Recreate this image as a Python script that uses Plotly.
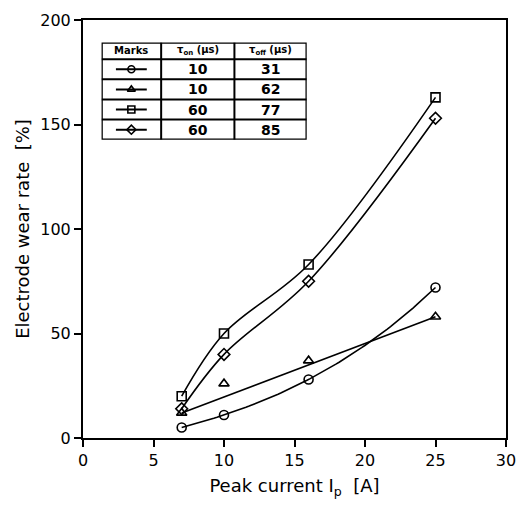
import plotly.graph_objects as go
import numpy as np

current = [7, 10, 16, 25]
wear_10_31 = [5, 11, 28, 72]
wear_10_62 = [12, 26, 37, 58]
wear_60_77 = [20, 50, 83, 163]
wear_60_85 = [14, 40, 75, 153]

table_on = ["10", "10", "60", "60"]
table_off = ["31", "62", "77", "85"]
symbols = ["circle-open", "triangle-up-open", "square-open", "diamond-open"]

FONT = "DejaVu Sans"
fig = go.Figure()

mk = dict(color="black", size=9, line=dict(width=1.6, color="black"))
for y, sym in [(wear_60_77, "square-open"), (wear_60_85, "diamond-open")]:
    fig.add_trace(go.Scatter(x=current, y=y, mode="lines+markers",
                             line=dict(shape="spline", smoothing=1.0, color="black", width=1.6),
                             marker=dict(symbol=sym, **mk), showlegend=False))
# circle series: smooth cubic through the measured points
coef = np.polyfit(current, wear_10_31, 3)
xs = np.linspace(current[0], current[-1], 80)
fig.add_trace(go.Scatter(x=xs, y=np.polyval(coef, xs), mode="lines",
                         line=dict(color="black", width=1.6), showlegend=False))
fig.add_trace(go.Scatter(x=current, y=wear_10_31, mode="markers",
                         marker=dict(symbol="circle-open", **mk), showlegend=False))
# triangle series: straight line from first to last point
fig.add_trace(go.Scatter(x=[current[0], current[-1]], y=[wear_10_62[0], wear_10_62[-1]], mode="lines",
                         line=dict(color="black", width=1.6), showlegend=False))
fig.add_trace(go.Scatter(x=current, y=wear_10_62, mode="markers",
                         marker=dict(symbol="triangle-up-open", **mk), showlegend=False))

# table on overlay axes
W, H = 527, 507
l, r, t, b = 83, 11, 12, 69
pw, ph = W - l - r, H - t - b
tx0, tx1 = 102, 312
ty0, ty1 = 35, 134
dx0 = (tx0 - l) / pw
dx1 = (tx1 - l) / pw
dy1 = 1 - (ty0 - t) / ph
dy0 = 1 - (ty1 - t) / ph
col_edges = [0, (163 - tx0) / (tx1 - tx0), (238 - tx0) / (tx1 - tx0), 1]
hdr_h = (52 - 35) / (134 - 35) * 5
row_edges = [5, 5 - hdr_h]
rh = (5 - hdr_h) / 4
for i in range(1, 5):
    row_edges.append(5 - hdr_h - rh * i)

fig.add_shape(type="rect", xref="x2", yref="y2", x0=0, x1=1, y0=0, y1=5, line=dict(color="black", width=2.5))
for ce in col_edges[1:-1]:
    fig.add_shape(type="line", xref="x2", yref="y2", x0=ce, x1=ce, y0=0, y1=5, line=dict(color="black", width=2))
for re_ in row_edges[1:-1]:
    fig.add_shape(type="line", xref="x2", yref="y2", x0=0, x1=1, y0=re_, y1=re_, line=dict(color="black", width=2))

headers = ["Marks", "τ<sub>on</sub> (μs)", "τ<sub>off</sub> (μs)"]
for j, htxt in enumerate(headers):
    fig.add_annotation(xref="x2", yref="y2", x=(col_edges[j] + col_edges[j + 1]) / 2,
                       y=(row_edges[0] + row_edges[1]) / 2, text="<b>" + htxt + "</b>", showarrow=False,
                       font=dict(family=FONT, size=10, color="black"))
for i in range(4):
    yc = (row_edges[i + 1] + row_edges[i + 2]) / 2
    c0 = col_edges[0] + 0.07
    c1 = col_edges[1] - 0.07
    fig.add_trace(go.Scatter(x=[c0, c1], y=[yc, yc], xaxis="x2", yaxis="y2", mode="lines",
                             line=dict(color="black", width=2), showlegend=False, hoverinfo="skip"))
    fig.add_trace(go.Scatter(x=[(c0 + c1) / 2], y=[yc], xaxis="x2", yaxis="y2", mode="markers",
                             marker=dict(symbol=symbols[i], size=7, color="black", line=dict(width=1.6, color="black")),
                             showlegend=False, hoverinfo="skip"))
    fig.add_annotation(xref="x2", yref="y2", x=(col_edges[1] + col_edges[2]) / 2, y=yc,
                       text="<b>" + table_on[i] + "</b>", showarrow=False, font=dict(family=FONT, size=14, color="black"))
    fig.add_annotation(xref="x2", yref="y2", x=(col_edges[2] + col_edges[3]) / 2, y=yc,
                       text="<b>" + table_off[i] + "</b>", showarrow=False, font=dict(family=FONT, size=14, color="black"))

axis_common = dict(showgrid=False, zeroline=False, showline=True, linecolor="black", linewidth=2,
                   mirror=True, ticks="outside", ticklen=7, tickwidth=1.5, tickcolor="black",
                   tickfont=dict(family=FONT, size=16, color="black"))
fig.update_layout(
    width=W, height=H, margin=dict(l=l, r=r, t=t, b=b),
    paper_bgcolor="white", plot_bgcolor="white",
    xaxis=dict(range=[0, 30], tickvals=[0, 5, 10, 15, 20, 25, 30],
               title=dict(text="Peak current I<sub>p</sub>  [A]", font=dict(family=FONT, size=18, color="black"), standoff=10),
               **axis_common),
    yaxis=dict(range=[0, 200], tickvals=[0, 50, 100, 150, 200],
               title=dict(text="Electrode wear rate  [%]", font=dict(family=FONT, size=18, color="black"), standoff=6),
               **axis_common),
    xaxis2=dict(domain=[dx0, dx1], range=[0, 1], visible=False, anchor="y2", fixedrange=True),
    yaxis2=dict(domain=[dy0, dy1], range=[0, 5], visible=False, anchor="x2", fixedrange=True),
    showlegend=False,
)

fig.write_html("out.html")
